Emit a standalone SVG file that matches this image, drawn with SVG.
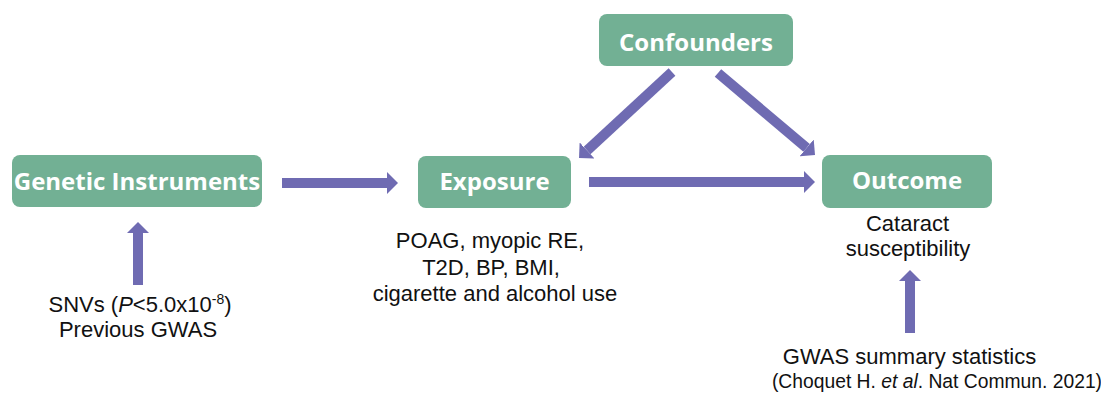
<svg xmlns="http://www.w3.org/2000/svg" width="1101" height="396" viewBox="0 0 1101 396">
<style>
.box{fill:#72B094;}
.lbl{font-family:"Open Sans","Liberation Sans",sans-serif;font-weight:bold;font-size:24px;fill:#fff;text-anchor:middle;}
.txt{font-family:"Liberation Sans",Arial,sans-serif;font-size:22px;fill:#111;text-anchor:middle;}
.sm{font-size:19.3px;}
.arr{stroke:#6F6BB2;stroke-width:10;fill:none;marker-end:url(#head);}
</style>
<defs>
<marker id="head" viewBox="0 0 11 22" refX="0" refY="11" markerWidth="1.1" markerHeight="2.2" orient="auto" markerUnits="strokeWidth">
<path d="M0,0 L11,11 L0,22 Z" fill="#6F6BB2"/>
</marker>
</defs>
<rect width="1101" height="396" fill="#fff"/>
<g id="connectors">
<line class="arr" x1="282" y1="183" x2="387" y2="183"/>
<line class="arr" x1="589" y1="182" x2="804" y2="182"/>
<line class="arr" x1="138" y1="285" x2="138" y2="233"/>
<line class="arr" x1="910" y1="333" x2="910" y2="281"/>
<line class="arr" x1="672" y1="72" x2="587.1" y2="150.5"/>
<line class="arr" x1="718" y1="73" x2="806.6" y2="147.9"/>
</g>
<g id="genetic">
<rect class="box" x="12" y="155" width="250" height="52" rx="8"/>
<text class="lbl" x="137" y="189.5">Genetic Instruments</text>
</g>
<g id="exposure">
<rect class="box" x="418" y="156" width="153" height="52" rx="8"/>
<text class="lbl" x="494.5" y="189.5">Exposure</text>
</g>
<g id="confounders">
<rect class="box" x="599" y="14" width="194" height="52" rx="8"/>
<text class="lbl" x="696" y="50.5">Confounders</text>
</g>
<g id="outcome">
<rect class="box" x="822" y="155" width="170" height="53" rx="8"/>
<text class="lbl" x="907" y="189">Outcome</text>
</g>
<g id="snv-text">
<text class="txt" x="140" y="312">SNVs (<tspan font-style="italic">P</tspan>&lt;5.0x10<tspan font-size="14" dy="-8">-8</tspan><tspan dy="8">)</tspan></text>
<text class="txt" x="138" y="337">Previous GWAS</text>
</g>
<g id="exposure-text">
<text class="txt" x="490" y="248">POAG, myopic RE,</text>
<text class="txt" x="491" y="275">T2D, BP, BMI,</text>
<text class="txt" x="495" y="301">cigarette and alcohol use</text>
</g>
<g id="outcome-text">
<text class="txt" x="907.5" y="231">Cataract</text>
<text class="txt" x="908" y="256">susceptibility</text>
</g>
<g id="gwas-text">
<text class="txt" x="909.5" y="364">GWAS summary statistics</text>
<text class="txt sm" x="937" y="388">(Choquet H. <tspan font-style="italic">et al</tspan>. Nat Commun. 2021)</text>
</g>
</svg>
